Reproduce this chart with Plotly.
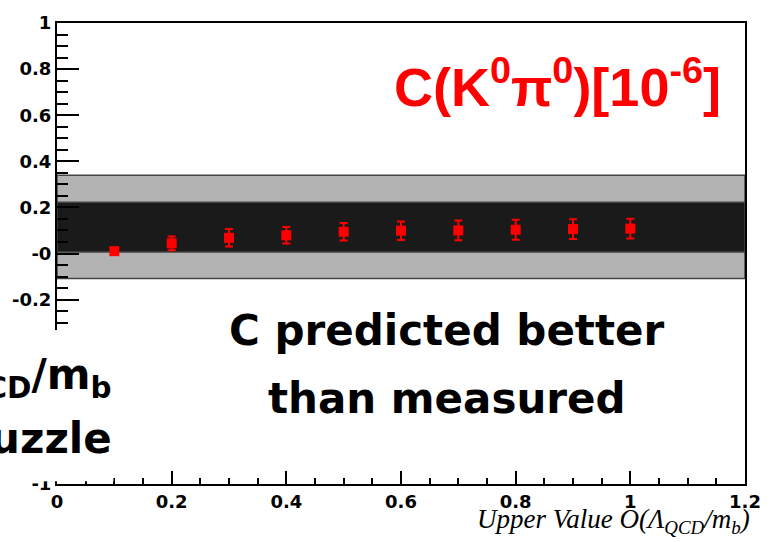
import plotly.graph_objects as go

# ---- data ----
x_vals = [0.1, 0.2, 0.3, 0.4, 0.5, 0.6, 0.7, 0.8, 0.9, 1.0]
c_vals = [0.010, 0.044, 0.068, 0.079, 0.094, 0.099, 0.100, 0.103, 0.106, 0.108]
c_err = [0.015, 0.030, 0.038, 0.036, 0.038, 0.040, 0.043, 0.043, 0.043, 0.043]

band_x = [0.0, 1.2]
band_outer = [-0.109, 0.340]   # measured (light gray)
band_inner = [0.007, 0.222]    # predicted (dark)

x_tickvals = [0, 0.2, 0.4, 0.6, 0.8, 1.0, 1.2]
x_ticktext = ["0", "0.2", "0.4", "0.6", "0.8", "1", "1.2"]
y_tickvals = [1, 0.8, 0.6, 0.4, 0.2, 0, -0.2, -0.4, -0.6, -0.8, -1]
y_ticktext = ["1", "0.8", "0.6", "0.4", "0.2", "-0", "-0.2", "-0.4", "-0.6", "-0.8", "-1"]

title_text = "C(K<sup>0</sup>π<sup>0</sup>)[10<sup>-6</sup>]"
note_line1 = "C predicted better"
note_line2 = "than measured"
left_line1 = "Λ<sub>QCD</sub>/m<sub>b</sub>"
left_line2 = "puzzle"
x_title = "Upper Value O(Λ<sub>QCD</sub>/m<sub>b</sub>)"

fig = go.Figure()

def band(lo, hi, fill):
    xs = [band_x[0], band_x[1], band_x[1], band_x[0], band_x[0]]
    ys = [lo, lo, hi, hi, lo]
    fig.add_trace(go.Scatter(x=xs, y=ys, mode="lines", fill="toself",
                             fillcolor=fill, line=dict(color="#444444", width=1.5),
                             hoverinfo="skip", showlegend=False))

band(band_outer[0], band_outer[1], "#b3b3b3")
band(band_inner[0], band_inner[1], "#1a1a1a")

fig.add_trace(go.Scatter(
    x=x_vals, y=c_vals, mode="markers",
    marker=dict(symbol="square", size=10, color="#ff0000"),
    error_y=dict(type="data", array=c_err, color="#ff0000", thickness=2, width=4),
    showlegend=False))

tickfont = dict(family="DejaVu Sans", size=18, color="black", weight="bold")

fig.update_xaxes(range=[0, 1.2], tickmode="array", tickvals=x_tickvals, ticktext=x_ticktext,
                 ticks="inside", ticklen=13, tickwidth=2, tickcolor="black",
                 showline=True, linewidth=2, linecolor="black", mirror=True,
                 showgrid=False, zeroline=False, tickfont=tickfont,
                 minor=dict(tick0=0, dtick=0.05, ticks="inside", ticklen=6, tickwidth=2,
                            tickcolor="black", showgrid=False))
fig.update_yaxes(range=[-1, 1], tickmode="array", tickvals=y_tickvals, ticktext=y_ticktext,
                 ticks="inside", ticklen=22, tickwidth=2, tickcolor="black",
                 showline=True, linewidth=2, linecolor="black", mirror=True,
                 showgrid=False, zeroline=False, tickfont=tickfont,
                 minor=dict(tick0=0, dtick=0.05, ticks="inside", ticklen=11, tickwidth=2,
                            tickcolor="black", showgrid=False))

# white cover box on the lower left (overlay from the slide)
fig.add_shape(type="rect", xref="paper", yref="paper",
              x0=-0.09, x1=0.082, y0=0.006, y1=0.334,
              fillcolor="white", line=dict(width=0), layer="above")

comic = dict(family="DejaVu Sans", size=42, color="black", weight="bold")

fig.add_annotation(xref="paper", yref="paper", x=0.728, y=0.87, text=title_text,
                   showarrow=False, xanchor="center", yanchor="middle",
                   font=dict(family="Liberation Sans", size=54, color="#ff0000", weight="bold"))
fig.add_annotation(xref="paper", yref="paper", x=0.567, y=(484 - 328) / 469, text=note_line1,
                   showarrow=False, xanchor="center", yanchor="middle", font=comic)
fig.add_annotation(xref="paper", yref="paper", x=0.567, y=(484 - 397) / 469, text=note_line2,
                   showarrow=False, xanchor="center", yanchor="middle", font=comic)
fig.add_annotation(xref="paper", yref="paper", x=(114 - 56) / 701, y=(484 - 376) / 469,
                   text=left_line1, showarrow=False, xanchor="right", yanchor="middle", font=comic)
fig.add_annotation(xref="paper", yref="paper", x=(114 - 56) / 701, y=(484 - 438) / 469,
                   text=left_line2, showarrow=False, xanchor="right", yanchor="middle", font=comic)
fig.add_annotation(xref="paper", yref="paper", x=1.01, y=-(522 - 484) / 469, text=x_title,
                   showarrow=False, xanchor="right", yanchor="middle",
                   font=dict(family="Liberation Serif", size=27, color="black", style="italic"))

fig.update_layout(width=773, height=542, margin=dict(l=56, r=16, t=15, b=58),
                  plot_bgcolor="white", paper_bgcolor="white", showlegend=False)

fig.write_html("out.html")
